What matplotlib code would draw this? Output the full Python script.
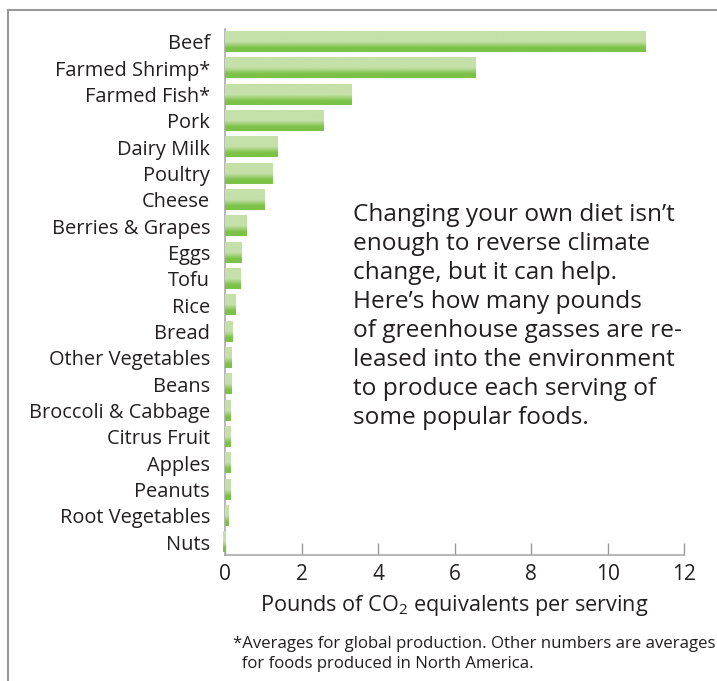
import numpy as np
import matplotlib
matplotlib.use("Agg")
import matplotlib.pyplot as plt
from matplotlib.lines import Line2D
from matplotlib.colors import to_rgb

plt.rcParams['font.family'] = ['Open Sans', 'DejaVu Sans']
plt.rcParams['mathtext.default'] = 'regular'

foods = ["Beef", "Farmed Shrimp*", "Farmed Fish*", "Pork", "Dairy Milk", "Poultry",
         "Cheese", "Berries & Grapes", "Eggs", "Tofu", "Rice", "Bread",
         "Other Vegetables", "Beans", "Broccoli & Cabbage", "Citrus Fruit",
         "Apples", "Peanuts", "Root Vegetables", "Nuts"]
pounds = [11.0, 6.54, 3.32, 2.58, 1.38, 1.25, 1.04, 0.56, 0.44, 0.41, 0.28, 0.20,
          0.175, 0.175, 0.15, 0.15, 0.15, 0.15, 0.10, -0.07]
xticks = [0, 2, 4, 6, 8, 10, 12]

blurb = ("Changing your own diet isn\u2019t\n"
         "enough to reverse climate\n"
         "change, but it can help.\n"
         "Here\u2019s how many pounds\n"
         "of greenhouse gasses are re-\n"
         "leased into the environment\n"
         "to produce each serving of\n"
         "some popular foods.")
footnote = ("*Averages for global production. Other numbers are averages\n"
            "  for foods produced in North America.")

light = np.array(to_rgb("#c5e0a9"))
dark = np.array(to_rgb("#7bc247"))

# vertical gradient for the bars: light top, dark bottom
t = np.linspace(0, 1, 60)
mix = np.clip((t - 0.5) / 0.3, 0, 1)
grad = light[None, :] * (1 - mix[:, None]) + dark[None, :] * mix[:, None]
grad = grad[:, None, :]

fig = plt.figure(figsize=(7.17, 6.81), dpi=100)
ax = fig.add_axes([0.3142, 0.1843, 0.954 - 0.3142, 0.9577 - 0.1843])

y = np.arange(len(foods))
bars = ax.barh(y, pounds, height=0.76, color="none", edgecolor="none")
for b in bars:
    x0, y0, w, h = b.get_x(), b.get_y(), b.get_width(), b.get_height()
    ax.imshow(grad, extent=[min(x0, x0 + w), max(x0, x0 + w), y0 + h, y0],
              origin="upper", aspect="auto", interpolation="bilinear",
              zorder=3, clip_on=False)

ax.set_xlim(0, 12)
ax.set_ylim(len(foods) - 0.5, -0.5)
ax.set_yticks(y)
ax.set_yticklabels(foods, fontsize=14.4, color="#231f20")
ax.set_xticks(xticks)
ax.set_xticklabels([str(v) for v in xticks], fontsize=15, color="#231f20")
ax.tick_params(axis="y", length=0, pad=11)
ax.tick_params(axis="x", direction="in", length=9, width=1, color="#999999", pad=6)

for side in ["top", "right"]:
    ax.spines[side].set_visible(False)
for side in ["left", "bottom"]:
    ax.spines[side].set_color("#aaaaaa")
    ax.spines[side].set_linewidth(1.2)

ax.set_xlabel("Pounds of CO$_2$ equivalents per serving", fontsize=15.6,
              color="#231f20", labelpad=6)

fig.text(353 / 717, 1 - 203 / 681, blurb, fontsize=17.6, color="#231f20",
         ha="left", va="top", linespacing=1.28)
fig.text(233 / 717, 1 - 636 / 681, footnote, fontsize=12.1, color="#231f20",
         ha="left", va="top", linespacing=1.35)

# open frame around the graphic
fig.add_artist(Line2D([7.5 / 717, 1], [1 - 10 / 681, 1 - 10 / 681],
                      color="#999999", lw=1.5))
fig.add_artist(Line2D([7.5 / 717, 7.5 / 717], [0, 1 - 10 / 681],
                      color="#999999", lw=1.5))

fig.savefig("out.png", dpi=100)
